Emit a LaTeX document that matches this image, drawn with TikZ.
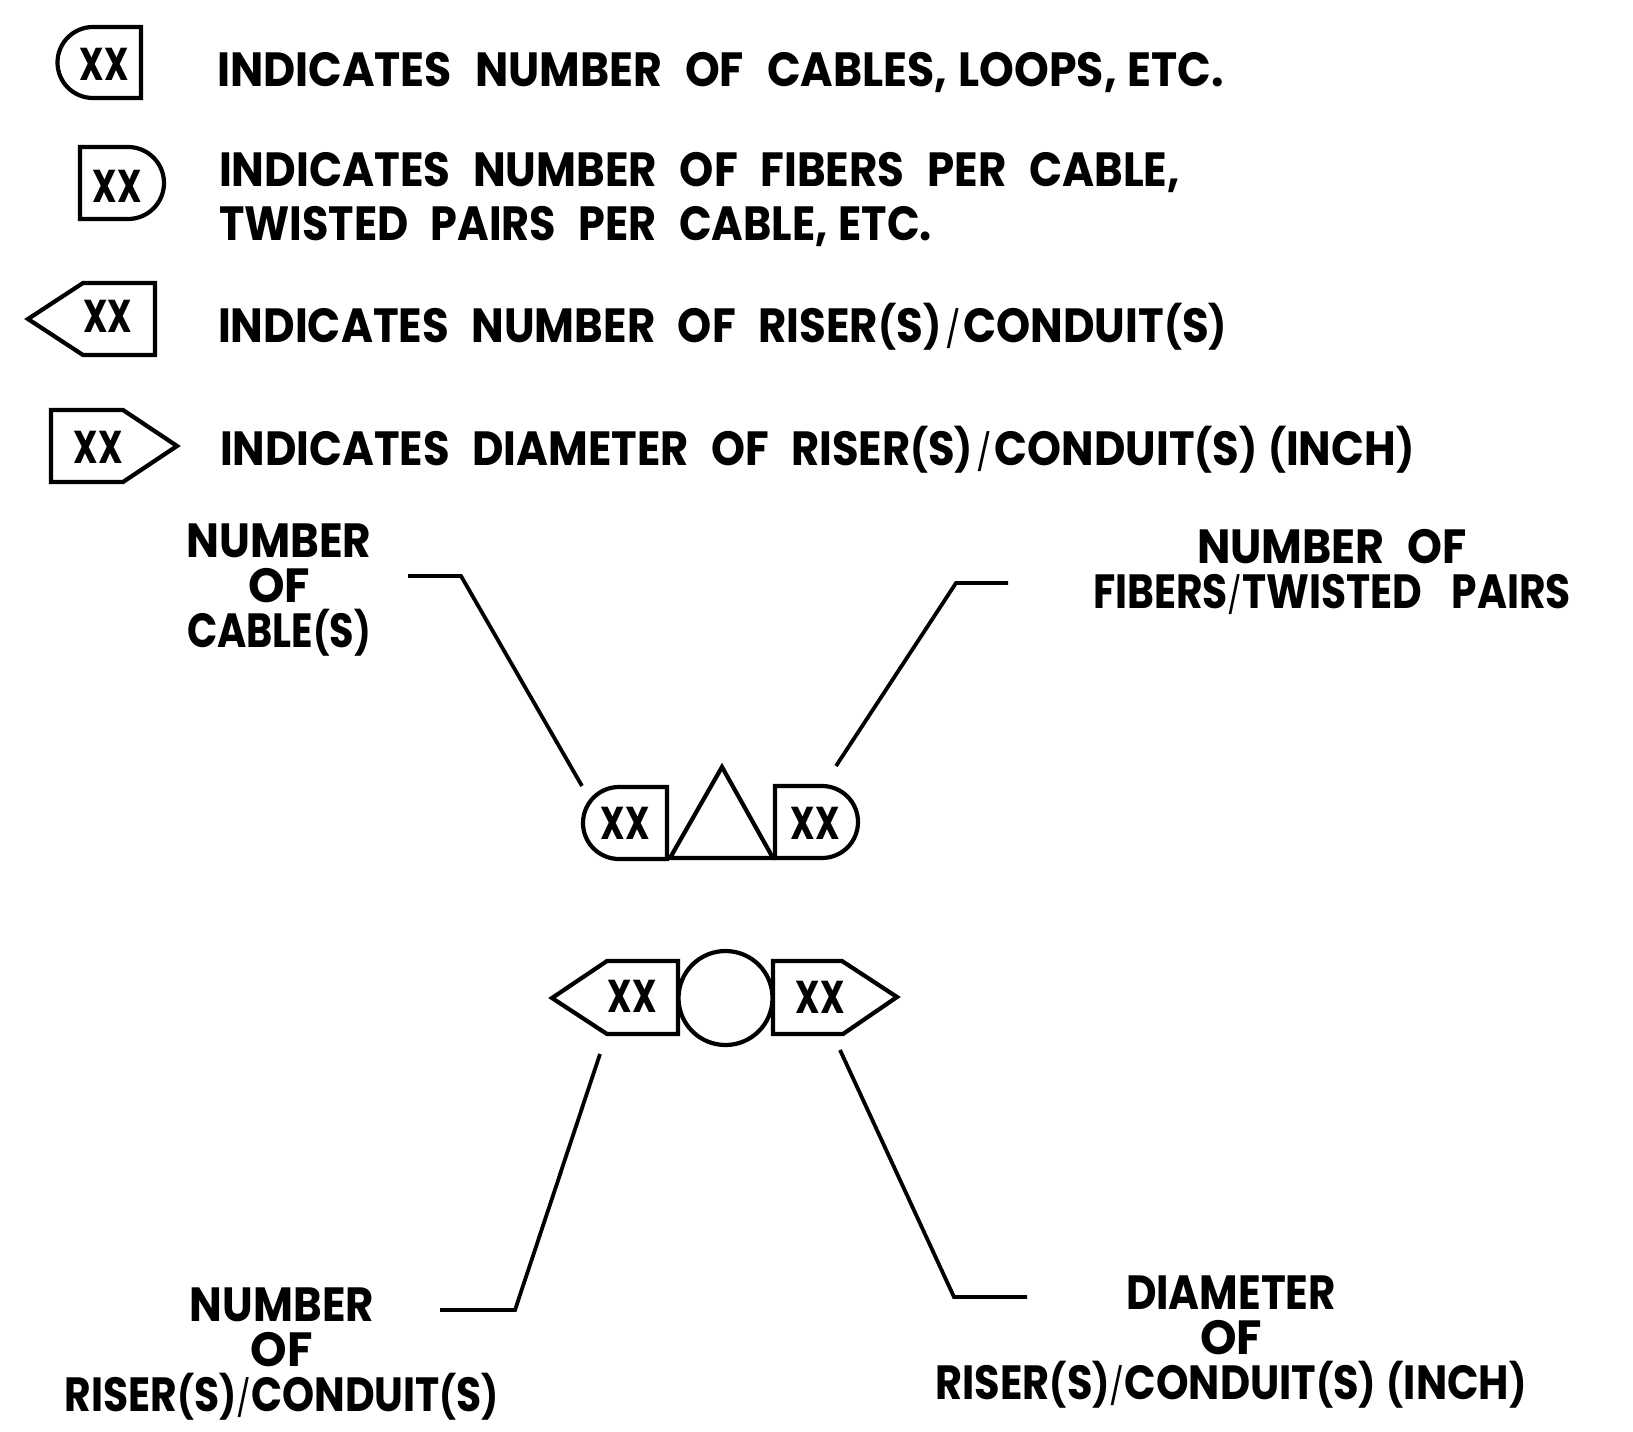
\documentclass[tikz,border=0pt]{standalone}
\usepackage{fontspec}
\usepackage{graphicx}
\setmainfont{Poppins}
\newcommand{\fitw}[2]{\resizebox{#1pt}{\height}{#2}}
\newcommand{\wsp}{\spaceskip=0.52em plus 0pt\relax}
\newcommand{\lp}{{\fontsize{42}{45}\selectfont\raisebox{0.5pt}{(}}}
\newcommand{\rp}{{\fontsize{42}{45}\selectfont\raisebox{0.5pt}{)}}}
\newcommand{\sla}{{\fontsize{36}{45}\mdseries\selectfont\hspace{0.12em}/\hspace{0.08em}}}
\newcommand{\tsla}{{\fontsize{36}{45}\mdseries\selectfont /}}
\newcommand{\csp}{{\spaceskip=0.25em plus 0pt\relax\ }}
\tikzset{
  sym/.style={draw=black,line width=4.2pt,line join=miter,fill=white},
  lead/.style={draw=black,line width=3.8pt,line join=miter},
  lbl/.style={inner sep=0pt,outer sep=0pt,text=black,font={\fontsize{48}{45}\bfseries\selectfont\lineskiplimit=-100pt\wsp}},
  xxn/.style={inner sep=0pt,outer sep=0pt,anchor=base,text=black,font={\fontsize{46}{46}\bfseries\selectfont}},
}
\begin{document}
\begin{tikzpicture}[x=1pt,y=-1pt]
\useasboundingbox (0,0) rectangle (1633,1432);
\fill[white] (0,0) rectangle (1633,1432);
% legend symbols
\draw[sym] (141,27) -- (93,27) arc[start angle=-90,end angle=-270,radius=35.5] -- (141,98) -- cycle;
\draw[sym] (80,147) -- (128,147) arc[start angle=-90,end angle=90,radius=36] -- (80,219) -- cycle;
\draw[sym] (28,319) -- (83,283) -- (155,283) -- (155,355) -- (83,355) -- cycle;
\draw[sym] (51,410) -- (123,410) -- (177,446) -- (123,482) -- (51,482) -- cycle;
\node[xxn] (x1) at (104.5,80) {\fitw{49}{XX}};
\node[xxn] (x2) at (117,202) {\fitw{49}{XX}};
\node[xxn] (x3) at (107.5,332) {\fitw{49}{XX}};
\node[xxn] (x4) at (98,463) {\fitw{49}{XX}};
% legend text
\node[lbl,anchor=base west] (t1) at (217,86) {\fitw{1007}{INDICATES NUMBER OF CABLES,\csp LOOPS,\csp ETC.}};
\node[lbl,anchor=base west] (t2a) at (219,186) {\fitw{961}{INDICATES NUMBER OF FIBERS PER CABLE,}};
\node[lbl,anchor=base west] (t2b) at (219,240) {\fitw{713}{TWISTED PAIRS PER CABLE,\csp ETC.}};
\node[lbl,anchor=base west] (t3) at (218,342) {\fitw{1009}{INDICATES NUMBER OF RISER\lp S\rp\sla CONDUIT\lp S\rp}};
\node[lbl,anchor=base west] (t4) at (220,465) {\fitw{1194}{INDICATES DIAMETER OF RISER\lp S\rp\sla CONDUIT\lp S\rp\csp\lp INCH\rp}};
% central symbols
\draw[sym] (667,787) -- (619,787) arc[start angle=-90,end angle=-270,radius=36] -- (667,859) -- cycle;
\draw[sym] (775,786) -- (822,786) arc[start angle=-90,end angle=90,radius=36] -- (775,858) -- cycle;
\draw[sym] (722,767) -- (773,858) -- (670,858) -- cycle;
\draw[sym] (552,998) -- (607,961) -- (678,961) -- (678,1034) -- (607,1034) -- cycle;
\draw[sym] (773,961) -- (842,961) -- (897,997) -- (843,1034) -- (773,1034) -- cycle;
\node[sym,circle,minimum size=94pt,inner sep=0pt] (circ) at (725.5,998) {};
\node[xxn] (x5) at (625,839) {\fitw{49}{XX}};
\node[xxn] (x6) at (815,839) {\fitw{49}{XX}};
\node[xxn] (x7) at (632,1012) {\fitw{49}{XX}};
\node[xxn] (x8) at (820,1013) {\fitw{49}{XX}};
% callout labels
\node[lbl,align=center] (l1) at (279,590) {\fitw{185}{NUMBER}\\\fitw{62}{OF}\\\fitw{184}{CABLE\lp S\rp}};
\node[lbl,align=center] (l2) at (1332,572) {\fitw{270}{NUMBER OF}\\\fitw{478}{FIBERS\tsla TWISTED\hspace{0.2em} PAIRS}};
\node[lbl,align=center] (l3) at (282,1354) {\fitw{184}{NUMBER}\\\fitw{62}{OF}\\\fitw{434}{RISER\lp S\rp\tsla CONDUIT\lp S\rp}};
\node[lbl,align=center] (l4) at (1231,1342) {\fitw{210}{DIAMETER}\\\fitw{62}{OF}\\\fitw{591}{RISER\lp S\rp\tsla CONDUIT\lp S\rp\csp\lp INCH\rp}};
% leaders
\coordinate (a1) at (408,576); \coordinate (a2) at (461,576); \coordinate (a3) at (582,786);
\coordinate (b1) at (1008,583); \coordinate (b2) at (956,583); \coordinate (b3) at (836,766);
\coordinate (c1) at (440,1310); \coordinate (c2) at (515,1310); \coordinate (c3) at (600,1054);
\coordinate (d1) at (1027,1297); \coordinate (d2) at (954,1297); \coordinate (d3) at (840,1050);
\draw[lead] (a1) -- (a2) -- (a3);
\draw[lead] (b1) -- (b2) -- (b3);
\draw[lead] (c1) -- (c2) -- (c3);
\draw[lead] (d1) -- (d2) -- (d3);
\end{tikzpicture}
\end{document}
